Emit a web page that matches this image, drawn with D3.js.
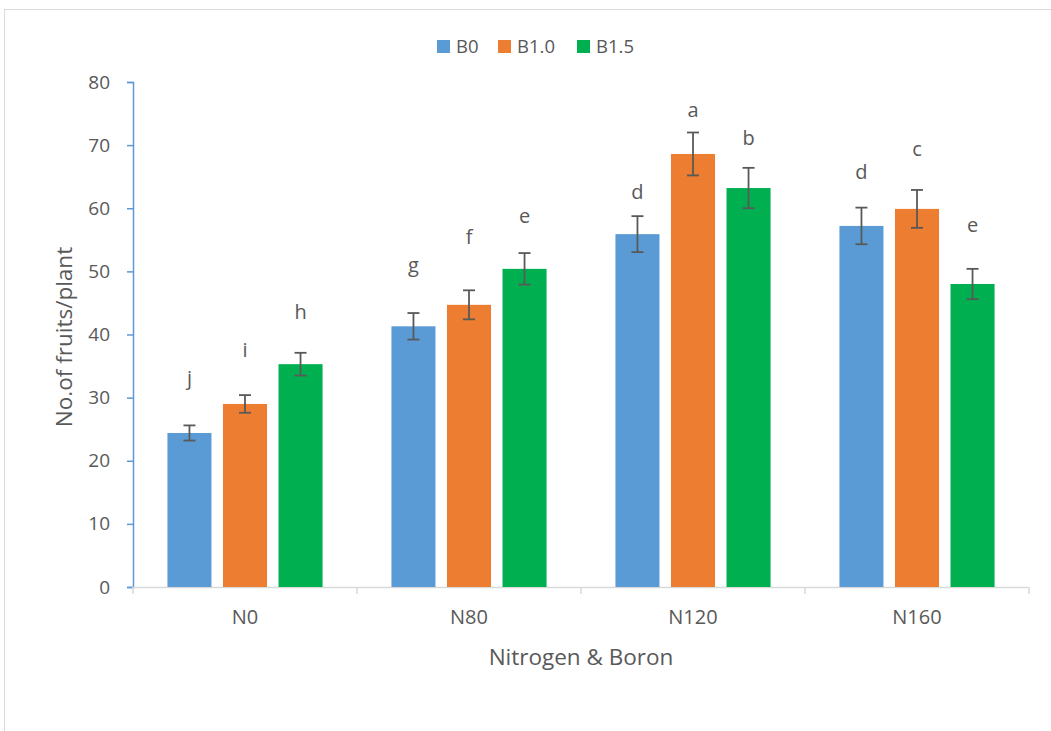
<!DOCTYPE html>
<html><head><meta charset="utf-8">
<script src="https://cdn.jsdelivr.net/npm/d3@7"></script>
<style>body{margin:0;background:#fff}svg{display:block}text{font-family:"Open Sans","Liberation Sans",sans-serif;fill:#595959}</style>
</head><body>
<svg id="c" width="1051" height="731"></svg>
<script>
const categories = ["N0", "N80", "N120", "N160"];
const seriesNames = ["B0", "B1.0", "B1.5"];
const seriesColors = ["#5B9BD5", "#ED7D31", "#00B050"];
const valuesB0  = [24.4, 41.3, 55.9, 57.2];
const valuesB10 = [29.0, 44.7, 68.6, 59.9];
const valuesB15 = [35.3, 50.4, 63.2, 48.0];
const errB0  = [1.2, 2.1, 2.85, 2.9];
const errB10 = [1.4, 2.3, 3.4, 3.0];
const errB15 = [1.8, 2.5, 3.2, 2.4];
const lettersB0  = ["j", "g", "d", "d"];
const lettersB10 = ["i", "f", "a", "c"];
const lettersB15 = ["h", "e", "b", "e"];
const letterYB0  = [33.1, 51.0, 62.6, 65.7];
const letterYB10 = [37.5, 55.4, 75.6, 69.4];
const letterYB15 = [43.6, 58.8, 71.1, 57.3];
const yTicks = [0, 10, 20, 30, 40, 50, 60, 70, 80];

const series = [
  {name: seriesNames[0], values: valuesB0, err: errB0, letters: lettersB0, ly: letterYB0},
  {name: seriesNames[1], values: valuesB10, err: errB10, letters: lettersB10, ly: letterYB10},
  {name: seriesNames[2], values: valuesB15, err: errB15, letters: lettersB15, ly: letterYB15}
];

const svg = d3.select("#c");
// chart border
svg.append("rect").attr("x", 4.5).attr("y", 9.5).attr("width", 1060).attr("height", 740)
  .attr("fill", "none").attr("stroke", "#D9D9D9").attr("stroke-width", 1);

const mL = 133, mR = 1029, mT = 82, mB = 587;
const x0 = d3.scaleBand().domain(categories).range([mL, mR]).paddingInner(0).paddingOuter(0);
const x1 = d3.scaleBand().domain(seriesNames).range([0, x0.bandwidth()]).paddingInner(0.207).paddingOuter(0.62);
const y = d3.scaleLinear().domain([0, 80]).range([mB, mT]);
const color = d3.scaleOrdinal().domain(seriesNames).range(seriesColors);

// y axis
const yAxis = svg.append("g").attr("transform", `translate(${mL},0)`)
  .call(d3.axisLeft(y).tickValues(yTicks).tickSize(6).tickPadding(17));
yAxis.select(".domain").attr("stroke", "#5B9BD5").attr("stroke-width", 1.5);
yAxis.selectAll(".tick line").attr("stroke", "#5B9BD5").attr("stroke-width", 1.5);
yAxis.selectAll(".tick text").attr("font-size", 19).attr("fill", "#595959")
  .style("font-family", "'Open Sans', sans-serif");

// x axis
const xg = svg.append("g").attr("transform", `translate(0,${mB})`);
xg.append("line").attr("x1", mL).attr("x2", mR).attr("y1", 0.5).attr("y2", 0.5)
  .attr("stroke", "#D9D9D9").attr("stroke-width", 1.5);
const bounds = categories.map(c => x0(c)).concat([mR]);
xg.selectAll("line.tk").data(bounds).join("line").attr("class", "tk")
  .attr("x1", d => d).attr("x2", d => d).attr("y1", 0).attr("y2", 7)
  .attr("stroke", "#D9D9D9").attr("stroke-width", 1.5);
xg.selectAll("text").data(categories).join("text")
  .attr("x", d => x0(d) + x0.bandwidth() / 2).attr("y", 37)
  .attr("text-anchor", "middle").attr("font-size", 20).text(d => d);

// bars
const groups = svg.append("g").selectAll("g").data(series).join("g");
groups.selectAll("rect").data(s => s.values.map((v, i) => ({s, v, i})))
  .join("rect")
  .attr("x", d => x0(categories[d.i]) + x1(d.s.name))
  .attr("width", x1.bandwidth())
  .attr("y", d => y(d.v))
  .attr("height", d => y(0) - y(d.v))
  .attr("fill", d => color(d.s.name));

// error bars
const eb = svg.append("g").attr("stroke", "#595959").attr("stroke-width", 1.8);
series.forEach(s => {
  s.values.forEach((v, i) => {
    const cx = x0(categories[i]) + x1(s.name) + x1.bandwidth() / 2;
    const e = s.err[i];
    eb.append("line").attr("x1", cx).attr("x2", cx).attr("y1", y(v + e)).attr("y2", y(v - e));
    eb.append("line").attr("x1", cx - 6).attr("x2", cx + 6).attr("y1", y(v + e)).attr("y2", y(v + e));
    eb.append("line").attr("x1", cx - 6).attr("x2", cx + 6).attr("y1", y(v - e)).attr("y2", y(v - e));
  });
});

// letters
series.forEach(s => {
  svg.append("g").selectAll("text").data(s.letters).join("text")
    .attr("x", (d, i) => x0(categories[i]) + x1(s.name) + x1.bandwidth() / 2)
    .attr("y", (d, i) => y(s.ly[i]))
    .attr("dy", "0.35em")
    .attr("text-anchor", "middle").attr("font-size", 20).text(d => d);
});

// axis titles
svg.append("text").attr("transform", "translate(72,337) rotate(-90)")
  .attr("text-anchor", "middle").attr("font-size", 22.5).text("No.of fruits/plant");
svg.append("text").attr("x", 581).attr("y", 665)
  .attr("text-anchor", "middle").attr("font-size", 22.5).text("Nitrogen & Boron");

// legend
const legX = [437, 498, 577];
const lg = svg.append("g").selectAll("g").data(seriesNames).join("g")
  .attr("transform", (d, i) => `translate(${legX[i]},40)`);
lg.append("rect").attr("width", 13).attr("height", 13).attr("fill", d => color(d));
lg.append("text").attr("x", 19).attr("y", 6.5).attr("dy", "0.35em").attr("font-size", 18.5).text(d => d);
</script>
</body></html>
